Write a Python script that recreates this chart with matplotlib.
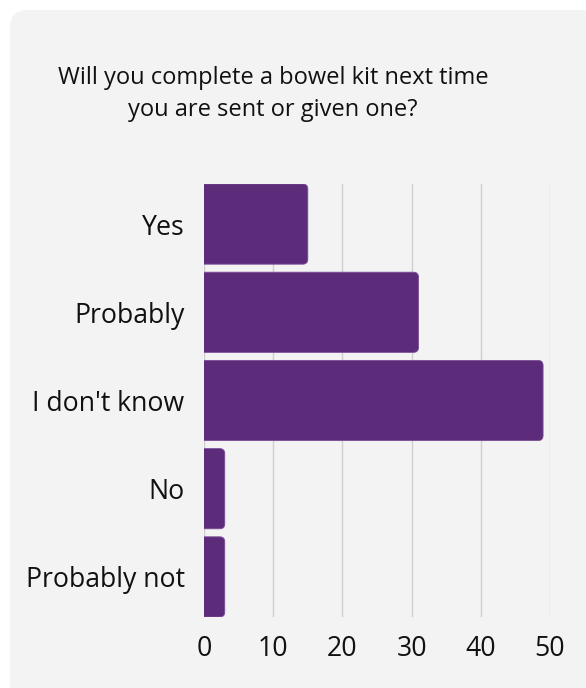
import matplotlib.pyplot as plt
from matplotlib.patches import FancyBboxPatch

plt.rcParams['font.family'] = ['Open Sans', 'DejaVu Sans']

answers = ["Yes", "Probably", "I don't know", "No", "Probably not"]
counts = [15, 31, 49, 3, 3]
x_ticks = [0, 10, 20, 30, 40, 50]

title = "Will you complete a bowel kit next time\nyou are sent or given one?"
bar_color = "#5c2c7b"
card_color = "#f3f3f3"

W, H = 586, 688
fig = plt.figure(figsize=(W / 100, H / 100), dpi=100)
fig.patch.set_facecolor("white")

# grey card behind everything, rounded top-left corner
card = FancyBboxPatch((10 / W, -0.5), 1.2, (H - 10) / H + 0.5,
                      transform=fig.transFigure,
                      boxstyle="round,pad=0,rounding_size=0.03",
                      mutation_aspect=W / H,
                      facecolor=card_color, edgecolor="none", zorder=-10)
fig.patches.append(card)

fig.text(273 / W, 1 - 66 / H, title, ha="center", va="top", fontsize=17,
         linespacing=1.45, color="#111111")

left, right = 204 / W, 550 / W
bottom, top = 1 - 617 / H, 1 - 184 / H
ax = fig.add_axes([left, bottom, right - left, top - bottom])
ax.set_facecolor("none")

bar_h = 80 / 88
ax.set_xlim(0, 50)
ax.set_ylim(len(answers) - 1 + bar_h / 2, -bar_h / 2)

# rounded bars; left end pushed past zero so only the right corners show
px_x = (right - left) * W / 50
px_y = (top - bottom) * H / (len(answers) - 1 + bar_h)
radius = 5 / px_x
for i, v in enumerate(counts):
    box = FancyBboxPatch((-2, i - bar_h / 2), v + 2, bar_h,
                         boxstyle="round,pad=0,rounding_size=%f" % radius,
                         mutation_aspect=px_x / px_y,
                         facecolor=bar_color, edgecolor="#7a4f96",
                         linewidth=0.6, zorder=3)
    ax.add_patch(box)

ax.set_xticks(x_ticks)
ax.set_xticklabels([str(t) for t in x_ticks])
ax.set_yticks(range(len(answers)))
ax.set_yticklabels(answers)
ax.grid(axis="x", color="#cfcfcf", linewidth=1)
ax.set_axisbelow(True)
for s in ax.spines.values():
    s.set_visible(False)
ax.tick_params(axis="both", length=0, labelsize=19.2, colors="#111111")
ax.tick_params(axis="x", pad=13)
ax.tick_params(axis="y", pad=14)

fig.savefig("out.png", dpi=100)
